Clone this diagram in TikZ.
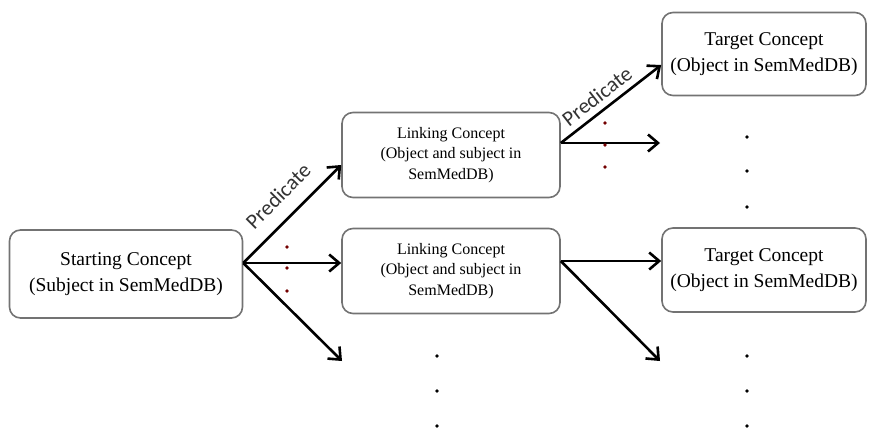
\documentclass[tikz,border=0pt]{standalone}
\usepackage{fontspec}
\setmainfont{Liberation Serif}
\newfontfamily\predfont{Carlito}
\usetikzlibrary{arrows.meta,positioning,calc}

\begin{document}
\begin{tikzpicture}[x=1pt, y=-1pt,
  concept/.style={draw=black!55, line width=1.6pt, rounded corners=11pt, align=center, inner sep=0pt},
  bigconcept/.style={concept, font=\fontsize{19.5}{26}\selectfont},
  smallconcept/.style={concept, font=\fontsize{16}{20.5}\selectfont, minimum width=218pt, minimum height=85pt},
  link/.style={-{Straight Barb[length=10pt,width=17pt]}, line width=2.6pt},
  pred/.style={sloped, inner sep=0pt, font=\predfont\fontsize{21.5}{22}\selectfont, text=black!80},
  reddot/.style={circle, fill=red!45!black, inner sep=1.3pt},
  blackdot/.style={circle, fill=black, inner sep=1.3pt}]
  \useasboundingbox (0,0) rectangle (871,429);

  \node (start) [bigconcept, minimum width=233pt, minimum height=88pt] at (126,274)
    {Starting Concept\\(Subject in SemMedDB)};
  \node (link1) [smallconcept] at (451,155) {Linking Concept\\(Object and subject in\\SemMedDB)};
  \node (link2) [smallconcept] at (451,271) {Linking Concept\\(Object and subject in\\SemMedDB)};
  \node (target1) [bigconcept, minimum width=204pt, minimum height=83pt] at (764,54)
    {Target Concept\\(Object in SemMedDB)};
  \node (target2) [bigconcept, minimum width=204pt, minimum height=84pt] at (764,270)
    {Target Concept\\(Object in SemMedDB)};

  \coordinate (s) at ([yshift=11pt]start.east);
  \coordinate (l1) at ([yshift=12pt]link1.east);
  \coordinate (l2) at ([yshift=10pt]link2.east);
  \coordinate (sOpen) at (342,361);
  \coordinate (l1Open) at (660,143);
  \coordinate (l2Open) at (660,361);

  \draw[link] (s) -- node[pred, above=14pt, pos=0.52] {Predicate} ([yshift=-10pt]link1.west);
  \draw[link] (s) -- ([yshift=8pt]link2.west);
  \draw[link] (s) -- (sOpen);
  \draw[link] (l1) -- node[pred, above=6pt, pos=0.45] {Predicate} ([yshift=-11pt]target1.west);
  \draw[link] (l1) -- (l1Open);
  \draw[link] (l2) -- ([yshift=9pt]target2.west);
  \draw[link] (l2) -- (l2Open);

  % dots between the arrows
  \foreach \y [count=\i] in {247,268,291}
    \node (sd\i) [reddot] at (287,\y) {};
  \foreach \y [count=\i] in {123,145,167}
    \node (ld\i) [reddot] at (605,\y) {};
  % more concepts below
  \foreach \y [count=\i] in {356,391,426} {
    \node (md\i) [blackdot] at (437,\y) {};
    \node (td\i) [blackdot] at (747,\y) {};
  }
  \foreach \y [count=\i] in {137,171,207}
    \node (ud\i) [blackdot] at (747,\y) {};
\end{tikzpicture}
\end{document}
